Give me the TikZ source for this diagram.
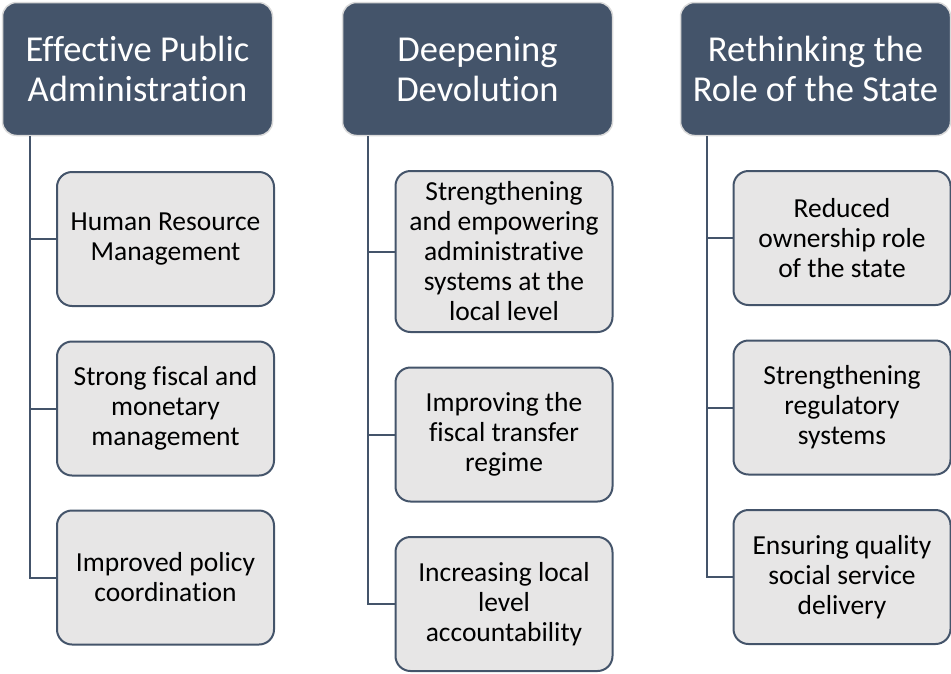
\documentclass[tikz,border=0pt]{standalone}
\usepackage{fontspec}
\setmainfont{Carlito}[Ligatures = NoCommon]
\usepackage{xcolor}
\usetikzlibrary{calc}

\definecolor{slate}{HTML}{44546A}
\definecolor{boxgray}{HTML}{E7E6E6}
\definecolor{rim}{HTML}{DADADA}

\tikzset{
	head/.style = {draw = rim, line width = 1.5pt, fill = slate, rounded corners = 14pt, text = white, minimum width = 270pt, minimum height = 133pt, align = center, inner sep = 0pt, font = \fontsize{36.5}{40}\selectfont},
	item/.style = {draw = slate, line width = 2pt, fill = boxgray, rounded corners = 15pt, minimum width = 217pt, minimum height = 134pt, align = center, inner sep = 0pt, font = \fontsize{27.5}{30}\selectfont},
	link/.style = {draw = slate, line width = 2pt}
}

\begin{document}
\begin{tikzpicture}[x = 1pt, y = -1pt]
					\useasboundingbox (0,0) rectangle (951,673);

					\begin{scope}
						\node [head] (admin) at (137.5,69) {Effective Public\\Administration};
						\node [head] (devol) at (477.5,69) {Deepening\\Devolution};
						\node [head] (state) at (815.5,69) {Rethinking the\\Role of the State};
					\end{scope}

					\coordinate (spineA) at ($(admin.south west) + (28,0)$);
					\coordinate (spineD) at ($(devol.south west) + (26,0)$);
					\coordinate (spineS) at ($(state.south west) + (27,0)$);

					\begin{scope}
						\node [item] (hrm) at (165.5,239) {Human Resource\\Management};
						\node [item] (fiscal) at (165.5,408.5) {Strong fiscal and\\monetary\\management};
						\node [item] (policy) at (165.5,577.5) {Improved policy\\coordination};
					\end{scope}

					\begin{scope}
						\node [item, minimum height = 161pt] (local) at (504,251.5) {Strengthening\\and empowering\\administrative\\systems at the\\local level};
						\node [item] (transfer) at (504,434.5) {Improving the\\fiscal transfer\\regime};
						\node [item] (account) at (504,604) {Increasing local\\level\\accountability};
					\end{scope}

					\begin{scope}
						\node [item] (owner) at (842,238) {Reduced\\ownership role\\of the state};
						\node [item] (regul) at (842,407.5) {Strengthening\\regulatory\\systems};
						\node [item] (social) at (842,577) {Ensuring quality\\social service\\delivery};
					\end{scope}

					\begin{scope}
						\draw [link] (spineA) |- (hrm.west);
						\draw [link] (spineA) |- (fiscal.west);
						\draw [link] (spineA) |- (policy.west);
						\draw [link] (spineD) |- (local.west);
						\draw [link] (spineD) |- (transfer.west);
						\draw [link] (spineD) |- (account.west);
						\draw [link] (spineS) |- (owner.west);
						\draw [link] (spineS) |- (regul.west);
						\draw [link] (spineS) |- (social.west);
					\end{scope}
				\end{tikzpicture}
\end{document}
